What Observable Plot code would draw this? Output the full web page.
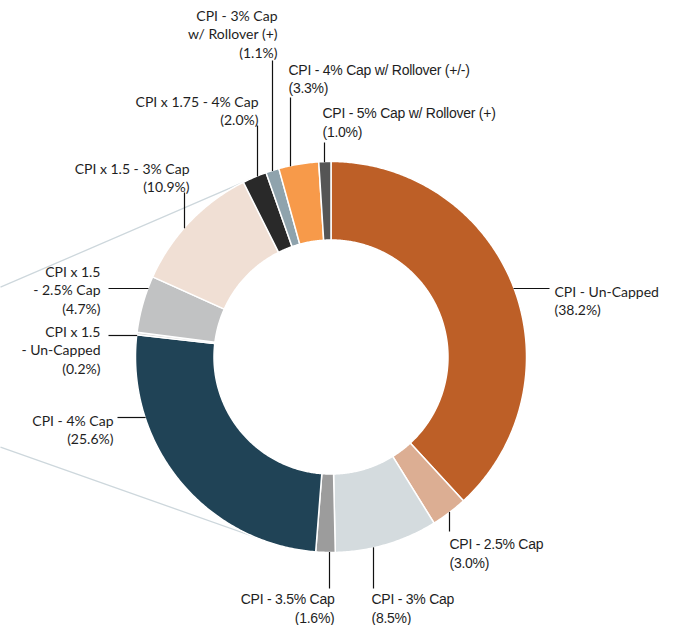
<!DOCTYPE html>
<html><head><meta charset="utf-8">
<script src="https://cdn.jsdelivr.net/npm/d3@7"></script>
<script src="https://cdn.jsdelivr.net/npm/@observablehq/plot@0.6"></script>
<style>
html,body{margin:0;padding:0;background:#fff;}
#chart{width:673px;height:625px;}
g[font-family="Liberation Sans"] text{letter-spacing:-0.25px;}
</style></head><body><div id="chart"></div>
<script>
// ---- data ----
const categories = [
  "CPI - Un-Capped", "CPI - 2.5% Cap", "CPI - 3% Cap", "CPI - 3.5% Cap", "CPI - 4% Cap",
  "CPI x 1.5 - Un-Capped", "CPI x 1.5 - 2.5% Cap", "CPI x 1.5 - 3% Cap", "CPI x 1.75 - 4% Cap",
  "CPI - 3% Cap w/ Rollover (+)", "CPI - 4% Cap w/ Rollover (+/-)", "CPI - 5% Cap w/ Rollover (+)"
];
const shares = [38.2, 3.0, 8.5, 1.6, 25.6, 0.2, 4.7, 10.9, 2.0, 1.1, 3.3, 1.0];
const sliceColors = ["#BD5F27", "#DCAE93", "#D4DBDE", "#9C9C9C", "#204356", "#D9D9D9",
  "#C1C2C3", "#F0DFD4", "#292929", "#8FA3AD", "#F79A4A", "#555555"];
const labelLines = [
  "CPI - Un-Capped", "CPI - 2.5% Cap", "CPI - 3% Cap", "CPI - 3.5% Cap", "CPI - 4% Cap",
  "CPI x 1.5\n- Un-Capped", "CPI x 1.5\n- 2.5% Cap", "CPI x 1.5 - 3% Cap", "CPI x 1.75 - 4% Cap",
  "CPI - 3% Cap\nw/ Rollover (+)", "CPI - 4% Cap w/ Rollover (+/-)", "CPI - 5% Cap w/ Rollover (+)"
];

// ---- layout ----
const W = 673, H = 625, CX = 330.5, CY = 356.5, R_OUT = 195.5, R_IN = 117;
const leaderDir = ["h","v","v","v","h","h","h","v","v","v","v","v"];
const leaderAt  = [288, 449, 373, 329, 417, 335, 288, 184, 257, 272, 290, 324];
const leaderTo  = [549, 531, 588, 588, 117, 108, 108, 192, 125, 60, 97, 142];
const labelX    = [554, 449, 371, 334, 113, 100, 100, 189, 258, 277, 288, 322];
const labelY    = [288, 541, 596, 596, 417, 328, 268, 165, 98, 12, 66.5, 110];
const labelAnchor = ["start","start","start","end","end","end","end","end","end","end","start","start"];
const labelFont = ["geo","narrow","narrow","narrow","geo","geo","geo","geo","geo","geo","narrow","narrow"];
const connectorFrom = [[0, 286.7], [0, 446.7]];
const connectorSide = [-1, 1]; // -1 upper tangent, +1 lower tangent

// ---- slices ----
const arcs = d3.pie().sort(null).value(d => d)(shares);
const pts = [];
arcs.forEach((a, i) => {
  const span = a.endAngle - a.startAngle;
  const n = Math.max(2, Math.ceil(span / (Math.PI / 360)));
  const ring = [];
  for (let k = 0; k <= n; k++) ring.push([R_OUT, a.startAngle + span * k / n]);
  for (let k = n; k >= 0; k--) ring.push([R_IN, a.startAngle + span * k / n]);
  ring.push(ring[0]);
  ring.forEach(([rho, t]) => pts.push({key: i, color: sliceColors[i], x: CX + rho * Math.sin(t), y: CY - rho * Math.cos(t)}));
});

// ---- leaders ----
const R_EDGE = 195;
const leaders = categories.map((c, i) => {
  if (leaderDir[i] === "h") {
    const s = leaderTo[i] > CX ? 1 : -1;
    const ex = CX + s * Math.sqrt(R_EDGE * R_EDGE - (leaderAt[i] - CY) ** 2);
    return {x1: ex, y1: leaderAt[i], x2: leaderTo[i], y2: leaderAt[i]};
  } else {
    const s = leaderTo[i] > CY ? 1 : -1;
    const ey = CY + s * Math.sqrt(R_EDGE * R_EDGE - (leaderAt[i] - CX) ** 2);
    return {x1: leaderAt[i], y1: ey, x2: leaderAt[i], y2: leaderTo[i]};
  }
});

// ---- connectors (tangent lines) ----
const connectors = connectorFrom.map(([px, py], j) => {
  const dx = px - CX, dy = py - CY, d = Math.hypot(dx, dy);
  const base = Math.atan2(dy, dx), al = Math.acos(R_EDGE / d);
  const cands = [base + al, base - al].map(t => [CX + R_EDGE * Math.cos(t), CY + R_EDGE * Math.sin(t)]);
  cands.sort((a, b) => a[1] - b[1]);
  const tp = connectorSide[j] < 0 ? cands[0] : cands[1];
  return {x1: px, y1: py, x2: tp[0], y2: tp[1]};
});

// ---- labels ----
const labels = categories.map((c, i) => ({
  text: labelLines[i] + "\n(" + shares[i].toFixed(1) + "%)",
  x: labelX[i], y: labelY[i] - 5, anchor: labelAnchor[i], font: labelFont[i]
}));
const textMark = (font, anchor, family, lh) => Plot.text(labels.filter(d => d.font === font && d.anchor === anchor), {
  x: "x", y: "y", text: "text", textAnchor: anchor, lineAnchor: "top", lineHeight: lh,
  fontSize: 14, fontFamily: family, fill: "#1e1e1e"
});

const chart = Plot.plot({
  width: W, height: H, margin: 0,
  x: {domain: [0, W], range: [0, W], axis: null},
  y: {domain: [0, H], range: [0, H], axis: null},
  color: {type: "identity"},
  style: {background: "#fff"},
  marks: [
    Plot.link(connectors, {x1: "x1", y1: "y1", x2: "x2", y2: "y2", stroke: "#CDD7DC", strokeWidth: 1.3}),
    Plot.line(pts, {x: "x", y: "y", z: "key", fill: "color", stroke: "white", strokeWidth: 1.5, strokeLinejoin: "round"}),
    Plot.link(leaders, {x1: "x1", y1: "y1", x2: "x2", y2: "y2", stroke: "#111", strokeWidth: 1.2}),
    textMark("geo", "start", "Lato", 1.33),
    textMark("geo", "end", "Lato", 1.33),
    textMark("narrow", "start", "Liberation Sans", 1.3),
    textMark("narrow", "end", "Liberation Sans", 1.3)
  ]
});
document.getElementById("chart").appendChild(chart);
</script></body></html>
